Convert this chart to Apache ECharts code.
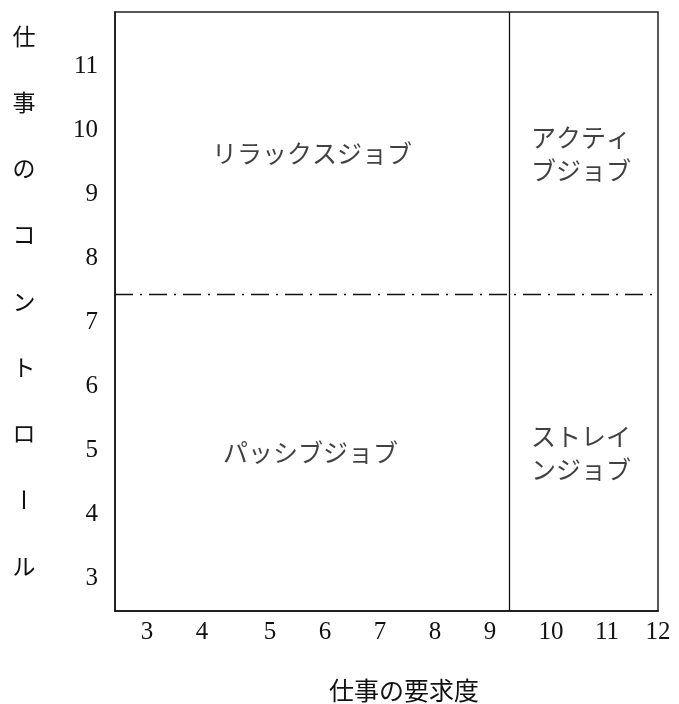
<!DOCTYPE html>
<html>
<head>
<meta charset="utf-8">
<script src="https://cdn.jsdelivr.net/npm/echarts@6/dist/echarts.min.js"></script>
<style>html,body{margin:0;padding:0;background:#fff}#c{width:679px;height:704px}</style>
</head>
<body>
<div id="c"></div>
<script>
// ---- data ----
// x tick labels are printed at uneven spots in the reference; positions in axis units
const xTickLabels = ['3','4','5','6','7','8','9','10','11','12'];
const xTickPos    = [3, 3.969, 5.166, 6.135, 7.104, 8.072, 9.041, 10.115, 11.101, 12];
const yTickLabels = ['3','4','5','6','7','8','9','10','11'];
const yTickPos    = [3, 4, 5, 6, 7, 8, 9, 10, 11];
const xRange = [2.436, 12];
const yRange = [2.493, 11.843];
const demandSplit = 9.38;    // vertical divider
const controlSplit = 7.44;   // horizontal dash-dot divider
const quadrantNames = ['リラックスジョブ', 'アクティ\nブジョブ', 'パッシブジョブ', 'ストレイ\nンジョブ'];
const quadrantX = [5.906, 10.644, 5.88, 10.644];
const quadrantY = [9.634, 9.634, 4.967, 4.967];
const xName = '仕事の要求度';
const yName = '仕事のコントロール';

const JP = "'Noto Sans CJK JP', sans-serif";
const NUM = "'Liberation Serif', 'DejaVu Serif', serif";

const chart = echarts.init(document.getElementById('c'), null, {renderer: 'canvas'});

const yNameGraphics = Array.from(yName).map((ch, i) => ({
  type: 'text',
  x: 24, y: 36 + i * 66.25,
  rotation: ch === 'ー' ? -Math.PI / 2 : 0,
  style: {text: ch, font: '23px ' + JP, fill: '#111', align: 'center', verticalAlign: 'middle'}
}));

function nearestLabel(pos, labels, v) {
  let best = 0;
  for (let i = 1; i < pos.length; i++) if (Math.abs(pos[i] - v) < Math.abs(pos[best] - v)) best = i;
  return labels[best];
}

chart.setOption({
  animation: false,
  backgroundColor: '#fff',
  grid: {left: 115, right: 21, top: 12, bottom: 93, show: true, borderColor: '#222', borderWidth: 1.5, outerBoundsMode: 'none', containLabel: false},
  xAxis: {
    type: 'value', min: xRange[0], max: xRange[1],
    splitLine: {show: false}, axisTick: {show: false},
    axisLine: {show: true, onZero: false, lineStyle: {color: '#111', width: 1.5}},
    axisLabel: {
      show: true, customValues: xTickPos, margin: 9,
      fontFamily: NUM, fontSize: 25, color: '#111',
      formatter: v => nearestLabel(xTickPos, xTickLabels, v)
    }
  },
  yAxis: {
    type: 'value', min: yRange[0], max: yRange[1],
    splitLine: {show: false}, axisTick: {show: false},
    axisLine: {show: true, onZero: false, lineStyle: {color: '#111', width: 1.5}},
    axisLabel: {
      show: true, customValues: yTickPos, margin: 17,
      fontFamily: NUM, fontSize: 25, color: '#111',
      formatter: v => nearestLabel(yTickPos, yTickLabels, v)
    }
  },
  graphic: yNameGraphics.concat([{
    type: 'text', x: 404, y: 690,
    style: {text: xName, font: '25px ' + JP, fill: '#111', align: 'center', verticalAlign: 'middle'}
  }]),
  series: [{
    type: 'scatter',
    symbolSize: 0,
    data: quadrantNames.map((n, i) => ({value: [quadrantX[i], quadrantY[i]], name: n})),
    label: {
      show: true, position: 'inside', formatter: p => p.name,
      fontFamily: JP, fontSize: 25, lineHeight: 33, color: '#111', align: 'center'
    },
    markLine: {
      silent: true, symbol: 'none', label: {show: false},
      data: [
        {xAxis: demandSplit, lineStyle: {type: 'solid', color: '#111', width: 1.3}},
        {yAxis: controlSplit, lineStyle: {type: [18, 7, 2, 7], color: '#111', width: 1.3}}
      ]
    }
  }]
});
</script>
</body>
</html>
